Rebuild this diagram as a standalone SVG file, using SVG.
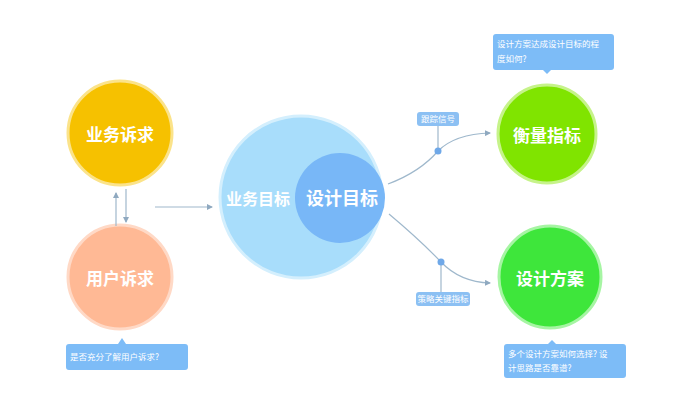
<svg xmlns="http://www.w3.org/2000/svg" width="700" height="417" viewBox="0 0 700 417">
<style>
.big{font-family:"Noto Sans CJK SC","Noto Sans",sans-serif;font-weight:bold;fill:#fff;text-anchor:middle;dominant-baseline:central}
.small{font-family:"Noto Sans CJK SC","Noto Sans",sans-serif;fill:#fff;font-size:8.5px}
.conn{fill:none;stroke:#9fb8cc;stroke-width:1.2}
.call{fill:#7dbcf7}
</style>
<defs>
<marker id="ah" viewBox="0 0 6 6" refX="5" refY="3" markerWidth="5" markerHeight="5" orient="auto"><path d="M0,0 L6,3 L0,6 z" fill="#8fa9c0"/></marker>
</defs>
<rect width="700" height="417" fill="#fff"/>
<g id="n-yewusuqiu">
<circle cx="120" cy="133" r="52" fill="#f6c100" stroke="#fbe38a" stroke-width="3"/>
<text class="big" x="120" y="133" font-size="17">业务诉求</text>
</g>
<g id="n-yonghusuqiu">
<circle cx="120" cy="277" r="52" fill="#ffb995" stroke="#ffd9c6" stroke-width="3"/>
<text class="big" x="120" y="277" font-size="17">用户诉求</text>
</g>
<g id="n-yewumubiao">
<circle cx="301" cy="197" r="81" fill="#a8ddfb" stroke="#d4effd" stroke-width="3"/>
<text class="big" x="258" y="198" font-size="16">业务目标</text>
</g>
<g id="n-shejimubiao">
<circle cx="340" cy="198" r="45" fill="#78b7f7"/>
<text class="big" x="342" y="197" font-size="18">设计目标</text>
</g>
<g id="n-hengliangzhibiao">
<circle cx="547" cy="134" r="49" fill="#80e400" stroke="#c6f38a" stroke-width="3"/>
<text class="big" x="547" y="134" font-size="17">衡量指标</text>
</g>
<g id="n-shejifangan">
<circle cx="550" cy="277" r="51" fill="#3ee63b" stroke="#a6f5a3" stroke-width="3"/>
<text class="big" x="550" y="277" font-size="17">设计方案</text>
</g>
<g id="connectors">
<line class="conn" x1="116" y1="226" x2="116" y2="193" marker-end="url(#ah)"/>
<line class="conn" x1="126" y1="189" x2="126" y2="222" marker-end="url(#ah)"/>
<line class="conn" x1="155" y1="207" x2="212" y2="207" marker-end="url(#ah)"/>
<path class="conn" d="M388,184 Q420,172 438,151 Q455,134 490,133" marker-end="url(#ah)"/>
<path class="conn" d="M389,214 Q420,240 441,262 Q460,282 490,283" marker-end="url(#ah)"/>
<line class="conn" x1="438" y1="126" x2="438" y2="151"/>
<line class="conn" x1="441" y1="262" x2="441" y2="292"/>
<circle cx="438" cy="151" r="3.5" fill="#6fa8e8"/>
<circle cx="441" cy="262" r="3.5" fill="#6fa8e8"/>
</g>
<g id="label-top">
<rect x="417" y="112" width="42" height="14" rx="3" fill="#8cc0f3"/>
<text class="small" x="438" y="122" font-size="7.5" text-anchor="middle">跟踪信号</text>
</g>
<g id="label-bottom">
<rect x="416" y="292" width="54" height="14" rx="3" fill="#8cc0f3"/>
<text class="small" x="443" y="302" font-size="7.5" text-anchor="middle">策略关键指标</text>
</g>
<g id="callout-top">
<path class="call" d="M496,34 H611 Q614,34 614,37 V67 Q614,70 611,70 H551 L547,74 L543,70 H496 Q493,70 493,67 V37 Q493,34 496,34 Z"/>
<text class="small" x="497" y="47">设计方案达成设计目标的程</text>
<text class="small" x="497" y="62">度如何?</text>
</g>
<g id="callout-bottom">
<path class="call" d="M507,344 H548 L552,340 L556,344 H623 Q626,344 626,347 V375 Q626,378 623,378 H507 Q504,378 504,375 V347 Q504,344 507,344 Z"/>
<text class="small" x="508" y="357">多个设计方案如何选择? 设</text>
<text class="small" x="508" y="371">计思路是否靠谱?</text>
</g>
<g id="callout-left">
<path class="call" d="M69,344 H118 L122,338 L126,344 H185 Q188,344 188,347 V367 Q188,370 185,370 H69 Q66,370 66,367 V347 Q66,344 69,344 Z"/>
<text class="small" x="70" y="360">是否充分了解用户诉求?</text>
</g>
</svg>
